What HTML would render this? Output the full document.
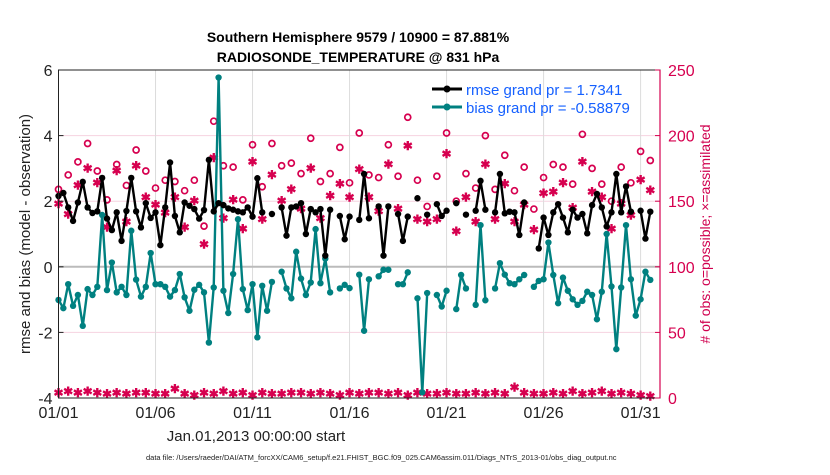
<!DOCTYPE html>
<html><head><meta charset="utf-8"><style>
body{margin:0;background:#fff;width:830px;height:470px;overflow:hidden;font-family:"Liberation Sans",sans-serif}
svg text{font-family:"Liberation Sans",sans-serif}
</style></head><body>
<svg id="chart" width="830" height="470" viewBox="0 0 830 470" xmlns="http://www.w3.org/2000/svg">
<text x="358" y="42" text-anchor="middle" font-size="14" font-weight="bold">Southern Hemisphere 9579 / 10900 = 87.881%</text>
<text x="358" y="62" text-anchor="middle" font-size="14" font-weight="bold">RADIOSONDE_TEMPERATURE @ 831 hPa</text>
<g id="grid"></g><g id="marks"></g><g id="axes"></g>
<text x="256" y="441" text-anchor="middle" font-size="15" fill="#222">Jan.01,2013 00:00:00 start</text>
<text transform="translate(30,234) rotate(-90)" text-anchor="middle" font-size="15" fill="#222">rmse and bias (model - observation)</text>
<text transform="translate(710,234) rotate(-90)" text-anchor="middle" font-size="14" fill="#d0004f"># of obs: o=possible; ×=assimilated</text>
<text x="146" y="460" font-size="7.5" fill="#222">data file: /Users/raeder/DAI/ATM_forcXX/CAM6_setup/f.e21.FHIST_BGC.f09_025.CAM6assim.011/Diags_NTrS_2013-01/obs_diag_output.nc</text>
<g>
<line x1="432" y1="89" x2="462" y2="89" stroke="#000" stroke-width="3"/><circle cx="447" cy="89" r="3.5" fill="#000"/>
<text x="466" y="95" font-size="15" fill="#1560ff">rmse grand pr = 1.7341</text>
<line x1="432" y1="107" x2="462" y2="107" stroke="#008080" stroke-width="3"/><circle cx="447" cy="107" r="3.5" fill="#008080"/>
<text x="466" y="113" font-size="15" fill="#1560ff">bias grand pr = -0.58879</text>
</g>
</svg>
<script>
const rmse=[2.16,2.25,1.81,1.40,1.96,2.59,1.81,1.64,1.69,2.71,1.47,1.12,1.66,0.79,1.70,2.71,1.69,1.20,1.94,1.49,1.66,0.66,1.81,3.18,1.55,1.05,1.96,1.86,1.76,1.47,1.73,3.26,
1.69,1.94,1.88,1.78,1.74,1.69,1.66,1.81,1.53,2.70,1.66,null,1.61,null,1.81,0.95,1.81,1.84,1.94,1.00,1.76,1.66,1.76,0.34,1.74,null,1.55,0.84,1.53,null,1.43,
2.83,1.48,null,1.84,0.34,1.84,null,1.61,0.79,1.53,null,2.09,null,1.59,null,1.91,1.55,1.71,null,1.94,null,1.59,null,1.71,2.62,1.74,null,1.66,2.83,1.63,1.68,
1.66,0.97,1.96,null,null,0.56,1.50,0.97,1.66,1.91,1.50,1.05,1.74,1.50,1.61,1.02,1.88,2.22,1.81,1.23,1.66,2.83,1.66,2.45,1.68,null,1.71,0.86,1.68];
const bias=[-1.01,-1.26,-0.53,-1.19,-0.86,-1.80,-0.68,-0.86,-0.61,1.58,-0.71,0.13,-0.78,-0.61,-0.86,1.10,-0.39,-0.91,-0.61,0.42,-0.53,-0.53,-0.61,-0.91,-0.71,-0.22,-0.93,-1.34,-0.70,-0.55,-0.78,-2.31,
-0.63,5.77,-0.73,-1.41,-0.22,1.45,-0.68,-1.32,-0.53,-2.15,-0.58,-1.34,-0.46,null,-0.15,-0.66,-0.96,0.46,-0.36,-0.86,-0.48,1.15,-0.50,0.25,-0.78,null,-0.66,-0.55,-0.65,null,-0.24,
-1.95,-0.38,null,-0.29,-0.09,-0.09,null,-0.53,-0.53,-0.17,null,-0.96,-3.83,-0.80,null,-0.86,-1.21,-0.73,null,-1.29,-0.25,-0.66,null,-1.16,1.27,-1.02,null,-0.66,0.11,-0.24,-0.50,
-0.53,-0.38,-0.25,null,-0.61,-0.43,-0.38,0.74,-0.25,-1.11,-0.33,-0.73,-0.99,-1.16,-1.04,-0.76,-0.86,-1.60,-0.76,1.00,-0.60,-2.51,-0.63,1.27,-0.38,-1.49,-0.99,-0.15,-0.40];
const possible=[159,170,180,194,173,151,178,162,189,173,160,166,165,158,166,131,211,177,176,151,193,161,194,177,179,171,198,165,171,191,164,202,170,168,193,169,214,166,146,169,202,150,171,160,200,159,185,158,176,144,168,178,176,163,201,175,163,150,176,164,188,181];
const assimilated=[148,140,162,175,164,130,173,134,177,153,147,141,153,130,150,117,183,137,151,129,180,136,170,150,159,144,175,137,154,163,153,174,153,142,178,144,192,136,134,136,186,127,153,134,178,136,163,134,147,128,156,157,164,145,180,157,153,129,148,139,166,158];
const bottom=[4,5,4,5,4,3,4,3,4,4,3,3,7,3,2,4,3,5,3,4,2,4,3,3,4,4,3,4,3,2,4,3,4,4,3,4,2,4,3,3,4,3,3,4,3,4,3,8,4,3,3,4,3,5,3,4,5,3,4,3,2,1];
const leftTicks=[6,4,2,0,-2,-4];
const rightTicks=[0,50,100,150,200,250];
const dateLabels=["01/01","01/06","01/11","01/16","01/21","01/26","01/31"];
const dateDays=[0,5,10,15,20,25,30];

const NS="http://www.w3.org/2000/svg";
const X0=58.5,X1=660,YT=70,YB=398;
const xDay=d=>X0+d*(X1-X0)/31;
const yL=v=>YB-(v+4)*(YB-YT)/10;
const yR=c=>YB-c*(YB-YT)/250;
function mk(parent,tag,attrs){const e=document.createElementNS(NS,tag);for(const k in attrs)e.setAttribute(k,attrs[k]);parent.appendChild(e);return e;}
const grid=document.getElementById('grid'),marks=document.getElementById('marks'),axes=document.getElementById('axes');

rightTicks.forEach(t=>{if(t>0&&t<250){const l=mk(grid,'line',{x1:X0,x2:X1,y1:yR(t),y2:yR(t),stroke:'#f6d3e0','stroke-width':1});

}});
dateDays.forEach(d=>{const l=mk(grid,'line',{x1:xDay(d),x2:xDay(d),y1:YT,y2:YB,stroke:'#dcdcdc','stroke-width':1});

});
const zl=mk(grid,'line',{x1:X0,x2:X1,y1:yL(0),y2:yL(0),stroke:'#bbb','stroke-width':2});



const xi=i=>xDay(i*0.25);
const xo=i=>xDay(i*0.5);
function star(g,x,y,name){const s=mk(g,'text',{x:x,y:y+4,'text-anchor':'middle','font-size':12,'font-weight':'bold',fill:'#d6004f'});s.textContent='✱';

}
possible.forEach((c,i)=>{const o=mk(marks,'circle',{cx:xo(i),cy:yR(c),r:3,fill:'none',stroke:'#d6004f','stroke-width':1.7});

});
assimilated.forEach((c,i)=>star(marks,xo(i),yR(c),'assimilated-obs-marker'));
bottom.forEach((c,i)=>star(marks,xo(i),yR(c),'low-count-marker'));

function series(vals,color,name){
 let d='';let pen=false;
 vals.forEach((v,i)=>{if(v===null){pen=false;return;}d+=(pen?'L':'M')+xi(i).toFixed(1)+' '+yL(v).toFixed(1);pen=true;});
 const p=mk(marks,'path',{d:d,fill:'none',stroke:color,'stroke-width':2.4,'stroke-linejoin':'round'});
 
 
 vals.forEach((v,i)=>{if(v===null)return;const c=mk(marks,'circle',{cx:xi(i),cy:yL(v),r:3.2,fill:color});
 
 });
}
series(bias,'#008080','bias');
series(rmse,'#000','rmse');

const box=mk(axes,'rect',{x:X0,y:YT,width:X1-X0,height:YB-YT,fill:'none',stroke:'#222','stroke-width':1});


const ra=mk(axes,'line',{x1:X1,x2:X1,y1:YT,y2:YB,stroke:'#d6004f','stroke-width':1.2});


leftTicks.forEach(t=>{const tx=mk(axes,'text',{x:X0-6,y:yL(t)+6,'text-anchor':'end','font-size':16,fill:'#222'});tx.textContent=t;


mk(axes,'line',{x1:X0,x2:X0+5,y1:yL(t),y2:yL(t),stroke:'#222'});});
rightTicks.forEach(t=>{const tx=mk(axes,'text',{x:X1+8,y:yR(t)+6,'font-size':16,fill:'#d6004f'});tx.textContent=t;


mk(axes,'line',{x1:X1-5,x2:X1,y1:yR(t),y2:yR(t),stroke:'#d6004f'});});
dateLabels.forEach((lab,i)=>{const tx=mk(axes,'text',{x:xDay(dateDays[i]),y:418,'text-anchor':'middle','font-size':16,fill:'#222'});tx.textContent=lab;

});
</script>
</body></html>
